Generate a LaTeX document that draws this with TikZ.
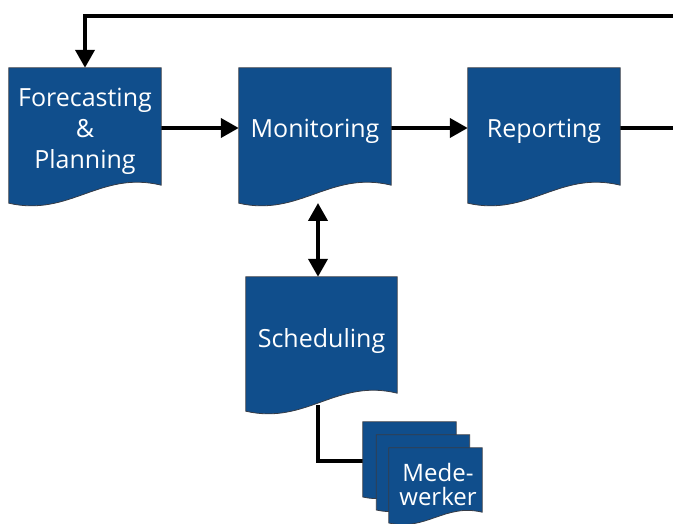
\documentclass[tikz,border=0pt]{standalone}
\usepackage{fontspec}
\setmainfont{Open Sans}
\usetikzlibrary{calc,arrows.meta}
\definecolor{docblue}{RGB}{16,78,140}
\definecolor{docedge}{RGB}{55,60,70}
\pgfdeclarelayer{bg}
\pgfdeclarelayer{docs}
\pgfsetlayers{bg,docs,main}
\tikzset{
  docnode/.style={inner sep=0pt, text=white, align=center,
    font=\fontsize{25}{31}\selectfont},
  smalldoc/.style={inner sep=0pt, text=white, align=center,
    minimum width=93pt, minimum height=64pt},
  doctext/.style={inner sep=0pt, text=white, align=center,
    font=\fontsize{24}{24}\selectfont},
  docfill/.style={fill=docblue, draw=docedge, line width=0.8pt},
  conn/.style={line width=4pt, draw=black, line join=miter},
  tip/.tip={Triangle[length=18pt,width=19pt]},
  arr/.style={conn, -tip},
  darr/.style={conn, tip-tip}
}
% #1 node name, #2 wave scale, #3 lift of the bottom edge above the node's south side
\newcommand\docshape[3]{%
  \begin{pgfonlayer}{docs}
  \filldraw[docfill] (#1.north west) -- (#1.north east) -- ($(#1.south east)+(0,-#3)$)
    .. controls ($(#1.south west)!0.6!(#1.south east)+(0,-15*#2-#3)$)
       and ($(#1.south west)!0.4!(#1.south east)+(0,32*#2-#3)$)
    .. ($(#1.south west)+(0,18*#2-#3)$) -- cycle;
  \end{pgfonlayer}}
\begin{document}
\begin{tikzpicture}[x=1pt,y=-1pt]
\useasboundingbox (0,0) rectangle (673,524);
% documents
\node[docnode, minimum width=152pt, minimum height=127pt] (fp) at (85,131.5) {Forecasting\\\&\\Planning};
\node[docnode, minimum width=152pt, minimum height=127pt] (mon) at (315,131.5) {Monitoring};
\node[docnode, minimum width=152pt, minimum height=127pt] (rep) at (544,131.5) {Reporting};
\node[docnode, minimum width=151pt, minimum height=128pt] (sch) at (321.5,341) {Scheduling};
\node[smalldoc] (med1) at (409.5,454) {};
\node[smalldoc] (med2) at (423,467) {};
\node[smalldoc] (med3) at (435.5,480) {};
\node[doctext] (medtxt) at (438,484) {Mede-\\werker};
\docshape{fp}{1}{10}
\docshape{mon}{1}{10}
\docshape{rep}{1}{10}
\docshape{sch}{1}{12}
\docshape{med1}{0.6}{0}
\docshape{med2}{0.6}{0}
\docshape{med3}{0.6}{0}
% connectors
\coordinate (loopR) at (674.5,16);
\coordinate (monB) at (318,203);
\coordinate (schB) at (318,405);
\begin{pgfonlayer}{bg}
\draw[arr] (fp.east |- 0,128) -- (mon.west |- 0,128);
\draw[arr] (mon.east |- 0,128) -- (rep.west |- 0,128);
\draw[arr] (rep.east |- 0,128) -| (loopR) -| (fp.north);
\draw[darr] (monB) -- (monB |- sch.north);
\draw[conn] (schB) |- ($(med1.west)+(0,7)$);
\end{pgfonlayer}
\end{tikzpicture}
\end{document}
